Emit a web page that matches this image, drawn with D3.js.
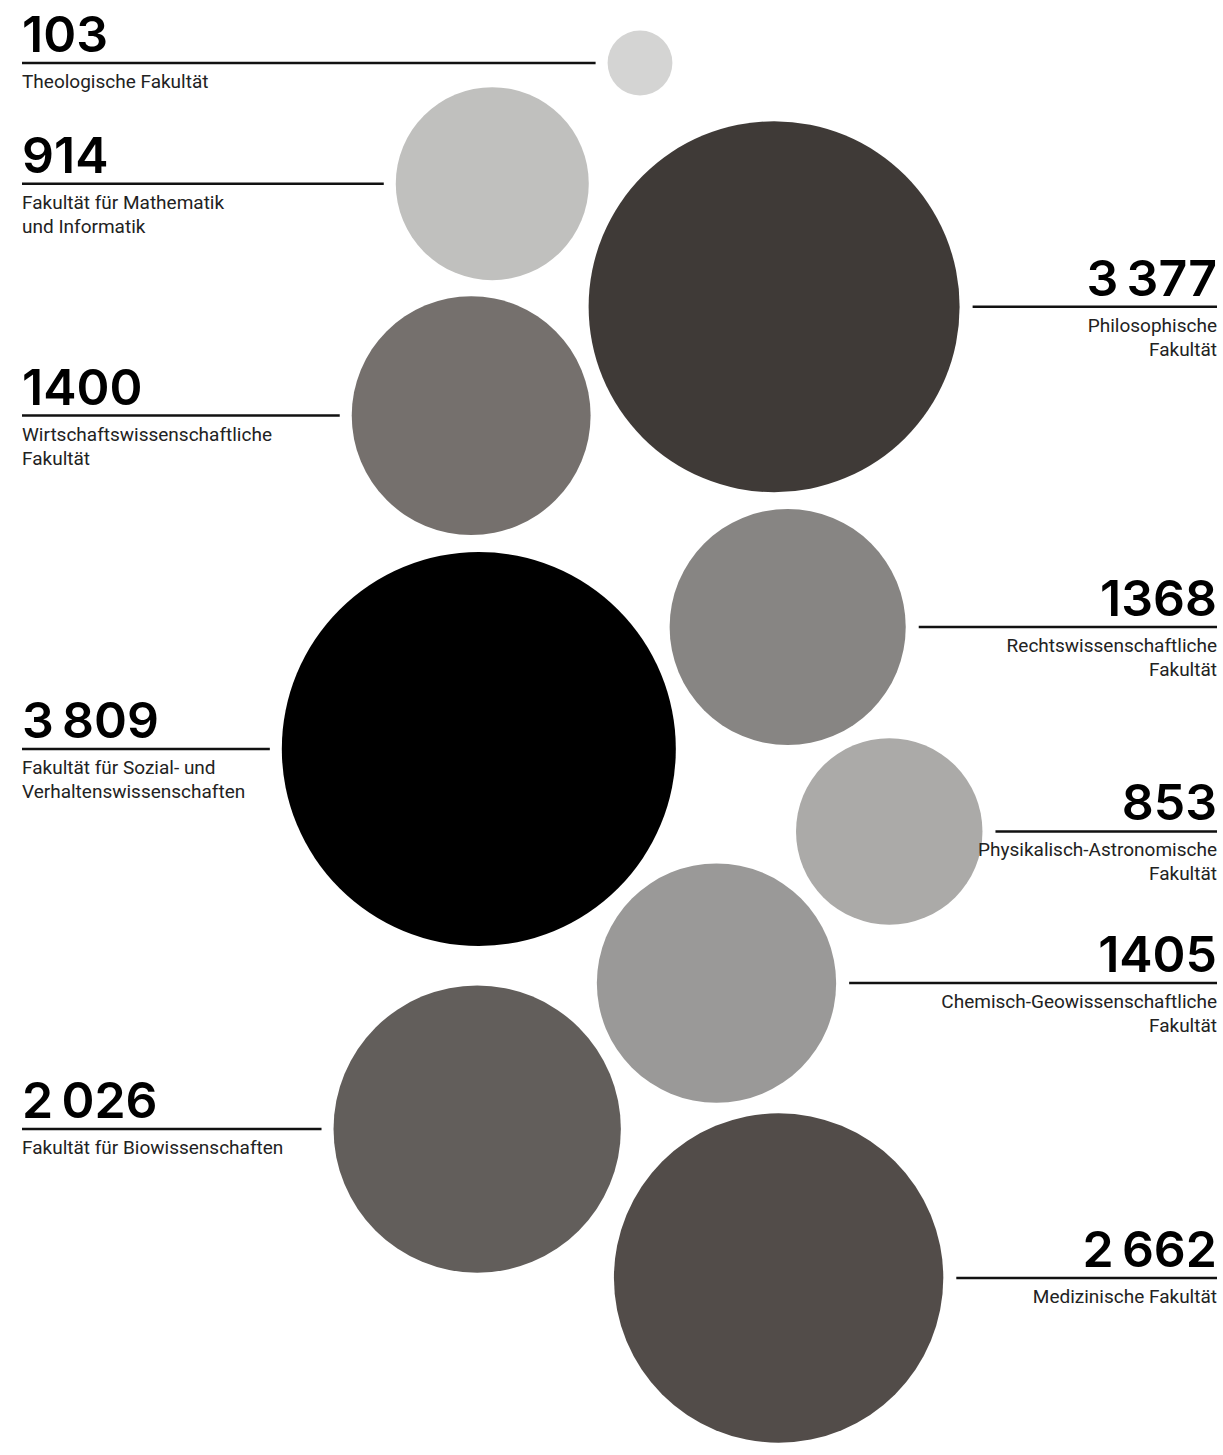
<!DOCTYPE html>
<html><head><meta charset="utf-8">
<script src="https://cdn.jsdelivr.net/npm/d3@7"></script>
<style>body{margin:0;background:#fff}svg{display:block}</style>
</head><body>
<svg id="chart" width="1223" height="1455"></svg>
<script>
// Data (ordered top to bottom)
const faculties = [
  ["Theologische Fakultät"],
  ["Fakultät für Mathematik", "und Informatik"],
  ["Philosophische", "Fakultät"],
  ["Wirtschaftswissenschaftliche", "Fakultät"],
  ["Rechtswissenschaftliche", "Fakultät"],
  ["Fakultät für Sozial- und", "Verhaltenswissenschaften"],
  ["Physikalisch-Astronomische", "Fakultät"],
  ["Chemisch-Geowissenschaftliche", "Fakultät"],
  ["Fakultät für Biowissenschaften"],
  ["Medizinische Fakultät"]
];
const students = [103, 914, 3377, 1400, 1368, 3809, 853, 1405, 2026, 2662];
const valueLabels = ["103", "914", "3\u2009377", "1400", "1368", "3\u2009809", "853", "1405", "2\u2009026", "2\u2009662"];
const labelSides = ["left", "left", "right", "left", "right", "left", "right", "right", "left", "right"];
const columns = ["center", "left", "right", "left", "right", "left", "right", "right", "left", "right"];
const fills = ["#d4d4d3", "#c0c0be", "#3f3a37", "#75706d", "#878583", "#000000", "#abaaa8", "#9a9998", "#625e5b", "#524c49"];

const W = 1223, H = 1455;
const svg = d3.select("#chart");
const rScale = d3.scaleSqrt().domain([0, d3.max(students)]).range([0, 197]);
const xCol = d3.scaleOrdinal().domain(["left", "center", "right"]).range([490, 640, 770]);
const yOrder = d3.scalePoint().domain(d3.range(students.length)).range([63, 1258]);
const pad = 17;

const nodes = students.map((v, i) => ({i, v, r: rScale(v), side: labelSides[i], col: columns[i], x: xCol(columns[i]), y: yOrder(i)}));
const sim = d3.forceSimulation(nodes)
  .force("x", d3.forceX(d => xCol(d.col)).strength(0.15))
  .force("y", d3.forceY(d => yOrder(d.i)).strength(0.3))
  .force("collide", d3.forceCollide(d => d.r + pad / 2).strength(1).iterations(6))
  .stop();
sim.tick(600);

const g = svg.append("g");
g.selectAll("circle").data(nodes).join("circle")
  .attr("cx", d => d.x).attr("cy", d => d.y).attr("r", d => d.r)
  .attr("fill", d => fills[d.i]);

const lab = svg.append("g").selectAll("g").data(nodes).join("g");
const leftX = 22, rightX = 1217;
lab.append("line")
  .attr("x1", d => d.side === "left" ? leftX : d.x + d.r + 13)
  .attr("x2", d => d.side === "left" ? d.x - d.r - 12 : rightX)
  .attr("y1", d => d.y).attr("y2", d => d.y)
  .attr("stroke", "#111").attr("stroke-width", 2.5);
lab.append("text")
  .attr("x", d => d.side === "left" ? leftX : rightX)
  .attr("y", d => d.y - 11)
  .attr("text-anchor", d => d.side === "left" ? "start" : "end")
  .attr("font-family", "Inter, 'Open Sans', sans-serif")
  .attr("font-weight", 600)
  .attr("font-size", 50)
  .attr("fill", "#000")
  .text(d => valueLabels[d.i]);
lab.each(function(d) {
  const t = d3.select(this).append("text")
    .attr("text-anchor", d.side === "left" ? "start" : "end")
    .attr("font-family", "Roboto, sans-serif")
    .attr("font-size", 19)
    .attr("fill", "#222");
  t.selectAll("tspan").data(faculties[d.i]).join("tspan")
    .attr("x", d.side === "left" ? leftX : rightX)
    .attr("y", (s, k) => d.y + 25 + k * 24)
    .text(s => s);
});
</script>
</body></html>
